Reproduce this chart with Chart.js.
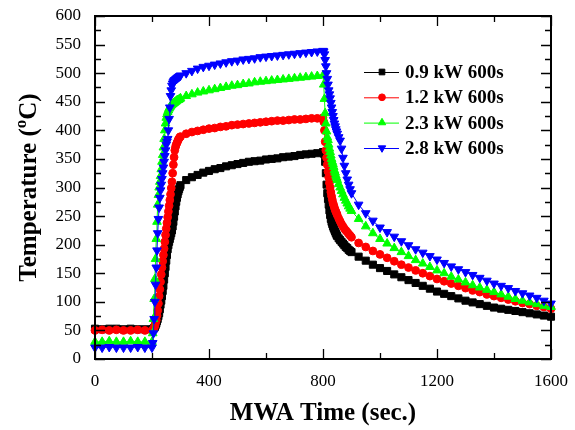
<!DOCTYPE html>
<html><head><meta charset="utf-8">
<script src="https://cdn.jsdelivr.net/npm/chart.js@4/dist/chart.umd.min.js"></script>
<style>html,body{margin:0;padding:0;background:#fff}#wrap{width:575px;height:430px;position:relative}canvas{display:block}</style>
</head><body><div id="wrap"><canvas id="c" width="575" height="430"></canvas></div>
<script>
// Time points (s)
const times = [
  0,25,50,75,100,125,150,175,200,
  202.5,205,207.5,210,212.5,215,217.5,220,222.5,225,227.5,230,232.5,235,237.5,240,242.5,245,247.5,250,
  252.5,255,257.5,260,262.5,265,267.5,270,272.5,275,277.5,280,282.5,285,287.5,290,292.5,295,297.5,300,
  320,340,360,380,400,420,440,460,480,500,520,540,560,580,600,620,640,660,680,700,720,740,760,780,800,
  802.5,805,807.5,810,812.5,815,817.5,820,822.5,825,827.5,830,832.5,835,837.5,840,842.5,845,847.5,850,
  855,860,865,870,875,880,885,890,895,900,
  925,950,975,1000,1025,1050,1075,1100,1125,1150,1175,1200,1225,1250,1275,1300,1325,1350,1375,1400,1425,1450,1475,1500,1525,1550,1575,1600
];
const seriesLabels = ['0.9 kW 600s','1.2 kW 600s','2.3 kW 600s','2.8 kW 600s'];
const temp09 = [
  53,52,53,53,52,53,52,52,52,
  52,53,54,56,59,62,66,70,75,80,87,95,102,110,119,128,139,150,161,172,
  182,192,199,205,210,215,220,225,232,240,249,258,267,275,282,288,293,297,301,304,
  313,318,322,326,329,332,334,337,339,341,343,345,346,347,349,350,351,353,354,355,357,358,359,360,362,
  361,358,345,325,305,290,280,270,260,252,245,240,236,232,229,226,223,220,217,215,
  211,208,205,202,199,196,194,191,189,187,
  179,172,165,159,154,148,143,138,133,128,123,118,114,110,106,102,99,96,93,90,88,86,84,82,80,78,76,74
];
const temp12 = [
  50,51,50,51,50,50,51,50,50,
  51,52,55,58,63,68,76,85,97,110,122,135,148,160,171,182,193,205,217,228,
  238,248,258,268,278,288,299,310,325,340,353,365,371,375,378,381,384,386,388,389,
  394,397,399,401,403,404,406,407,409,410,411,412,413,414,415,416,417,417,418,419,419,420,421,421,422,
  415,400,380,365,352,340,328,318,308,300,292,285,279,273,269,265,261,258,255,252,
  246,241,236,232,228,225,222,219,216,213,
  203,196,189,183,177,171,165,160,155,150,145,140,136,132,128,124,120,117,113,110,107,104,101,98,96,93,91,88
];
const temp23 = [
  30,30,31,30,30,31,30,30,30,
  45,70,105,140,175,210,240,270,287,300,310,320,332,345,357,370,385,400,412,422,
  428,432,435,438,440,442,444,445,446,447,448,449,450,451,452,453,453,454,455,456,
  460,463,466,468,470,472,474,476,478,479,481,482,484,485,486,487,488,489,490,491,492,493,494,495,496,
  480,455,430,412,398,388,383,375,368,362,356,350,345,341,336,330,326,321,317,313,
  306,300,294,288,282,277,272,267,263,259,
  245,232,220,210,202,194,187,180,173,167,161,155,150,144,139,134,129,125,121,117,113,109,105,102,99,96,93,91
];
const temp28 = [
  20,20,21,20,20,20,21,20,20,
  28,45,70,100,130,160,190,220,245,265,282,295,305,315,325,335,345,355,365,375,
  380,385,400,420,440,460,470,478,482,485,487,488,489,490,491,492,493,494,495,496,
  500,504,508,511,513,515,517,519,521,522,524,525,526,528,529,530,531,532,533,534,535,536,537,538,539,
  538,533,523,512,500,490,480,470,463,456,448,440,432,425,418,412,407,402,398,394,
  388,382,368,352,338,325,314,305,297,290,
  270,255,242,230,222,214,206,199,192,186,180,174,168,162,157,152,147,142,137,132,128,124,119,115,111,107,102,97
];
const xTitle = 'MWA Time (sec.)';
const yTitleParts = ['Temperature (', 'o', 'C)'];

const FONT = "'Liberation Serif','Times New Roman',serif";
Chart.defaults.font.family = FONT;
Chart.defaults.color = '#000';

function pts(arr){ return times.map((t,i)=>({x:t,y:arr[i]})); }

const styles = [
  {color:'#000000', pointStyle:'rect', r:5, rot:0, lr:4},
  {color:'#ff0000', pointStyle:'circle', r:3.9, rot:0, lr:3.4},
  {color:'#00ff00', pointStyle:'triangle', r:5, rot:0, lr:4.3},
  {color:'#0000ff', pointStyle:'triangle', r:5, rot:180, lr:4.3}
];
const allData = [temp09, temp12, temp23, temp28];

const datasets = allData.map((arr,i)=>({
  label: seriesLabels[i],
  data: pts(arr),
  borderColor: styles[i].color,
  backgroundColor: styles[i].color,
  pointBackgroundColor: styles[i].color,
  pointBorderColor: styles[i].color,
  pointStyle: styles[i].pointStyle,
  pointRadius: styles[i].r,
  pointRotation: styles[i].rot,
  pointBorderWidth: 1,
  borderWidth: 1,
  fill: false,
  tension: 0,
  order: 4 - i,
  clip: 5
}));

function drawMarker(ctx, st, x, y, r){
  ctx.save();
  ctx.fillStyle = st.color; ctx.strokeStyle = st.color; ctx.lineWidth = 1;
  if (Chart.helpers && Chart.helpers.drawPoint) {
    Chart.helpers.drawPoint(ctx, {pointStyle: st.pointStyle, radius: r, rotation: st.rot, borderWidth: 1}, x, y);
  } else {
    ctx.beginPath(); ctx.arc(x,y,r,0,Math.PI*2); ctx.fill();
  }
  ctx.restore();
}

const decor = {
  id: 'decor',
  afterDraw(chart){
    const ctx = chart.ctx;
    const a = chart.chartArea;
    const xs = chart.scales.x, ys = chart.scales.y;
    ctx.save();
    ctx.strokeStyle = '#000';
    // inward ticks
    ctx.lineWidth = 1.3;
    ctx.beginPath();
    for (let v = 0; v <= 1600; v += 200) {
      const px = Math.round(xs.getPixelForValue(v)) + 0.5;
      const L = (v % 400 === 0) ? 10 : 6;
      ctx.moveTo(px, a.bottom); ctx.lineTo(px, a.bottom - L);
      ctx.moveTo(px, a.top); ctx.lineTo(px, a.top + L);
    }
    for (let v = 0; v <= 600; v += 25) {
      const py = Math.round(ys.getPixelForValue(v)) + 0.5;
      const L = (v % 50 === 0) ? 10 : 6;
      ctx.moveTo(a.left, py); ctx.lineTo(a.left + L, py);
      ctx.moveTo(a.right, py); ctx.lineTo(a.right - L, py);
    }
    ctx.stroke();
    // frame
    ctx.lineWidth = 2;
    ctx.strokeRect(a.left, a.top, a.right - a.left, a.bottom - a.top);

    // x title
    ctx.fillStyle = '#000';
    ctx.font = "bold 25px " + FONT;
    ctx.textAlign = 'center';
    ctx.textBaseline = 'alphabetic';
    ctx.fillText(xTitle, (a.left + a.right)/2, 420);

    // y title with superscript
    ctx.save();
    ctx.translate(36, (a.top + a.bottom)/2);
    ctx.rotate(-Math.PI/2);
    const big = "bold 25px " + FONT, small = "bold 17px " + FONT;
    ctx.font = big; const w1 = ctx.measureText(yTitleParts[0]).width, w3 = ctx.measureText(yTitleParts[2]).width;
    ctx.font = small; const w2 = ctx.measureText(yTitleParts[1]).width;
    let x0 = -(w1 + w2 + w3)/2;
    ctx.textAlign = 'left';
    ctx.font = big; ctx.fillText(yTitleParts[0], x0, 0);
    ctx.font = small; ctx.fillText(yTitleParts[1], x0 + w1, -10);
    ctx.font = big; ctx.fillText(yTitleParts[2], x0 + w1 + w2, 0);
    ctx.restore();

    // legend
    const lx0 = 364, lx1 = 399, mx = 382, tx = 405;
    const ly = [72, 97.3, 122.6, 148];
    chart.data.datasets.forEach((ds, i) => {
      const st = styles[i];
      ctx.strokeStyle = st.color; ctx.lineWidth = 1;
      ctx.beginPath(); ctx.moveTo(lx0, ly[i] + 0.5); ctx.lineTo(lx1, ly[i] + 0.5); ctx.stroke();
      drawMarker(ctx, st, mx, ly[i], st.lr);
      ctx.fillStyle = '#000';
      ctx.font = "bold 19px " + FONT;
      ctx.textAlign = 'left'; ctx.textBaseline = 'middle';
      ctx.fillText(ds.label, tx, ly[i] + 1);
    });
    ctx.restore();
  }
};

new Chart(document.getElementById('c'), {
  type: 'line',
  data: { datasets },
  options: {
    responsive: false,
    devicePixelRatio: 1,
    animation: false,
    layout: { padding: { left: 0, right: 24, top: 16, bottom: 0 } },
    plugins: { legend: { display: false }, tooltip: { enabled: false } },
    scales: {
      x: {
        type: 'linear', min: 0, max: 1600,
        grid: { display: false, drawTicks: false, tickLength: 0 },
        border: { display: false },
        ticks: { stepSize: 400, font: { size: 17 }, color: '#000', padding: 12, maxRotation: 0,
                 callback: (v) => String(v) },
        afterFit(s){ s.height = 71; s.paddingLeft = 0; s.paddingRight = 0; }
      },
      y: {
        type: 'linear', min: 0, max: 600,
        grid: { display: false, drawTicks: false, tickLength: 0 },
        border: { display: false },
        ticks: { stepSize: 50, font: { size: 17 }, color: '#000', padding: 14,
                 callback: (v) => String(v) },
        afterFit(s){ s.width = 95; s.paddingTop = 0; s.paddingBottom = 0; }
      }
    }
  },
  plugins: [decor]
});
</script>
</body></html>
